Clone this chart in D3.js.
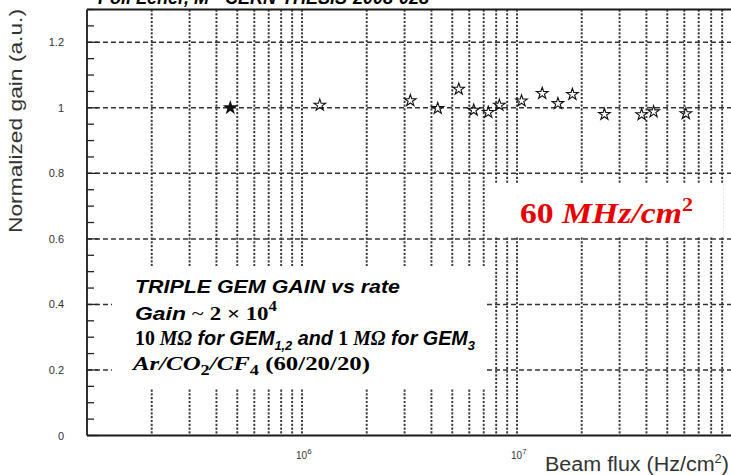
<!DOCTYPE html>
<html>
<head>
<meta charset="utf-8">
<script src="https://cdn.jsdelivr.net/npm/d3@7"></script>
<style>
  html, body { margin: 0; padding: 0; background: #fff; }
  svg { display: block; }
</style>
</head>
<body>
<svg id="chart" width="731" height="475"></svg>
<script>
// Beam flux (Hz/cm^2) and normalized gain of the triple GEM
const flux = [4.64e5, 1.21e6, 3.19e6, 4.28e6, 5.36e6, 6.29e6, 7.35e6, 8.28e6,
              1.05e7, 1.31e7, 1.55e7, 1.81e7, 2.55e7, 3.80e7, 4.32e7, 6.10e7];
const gain = [1.000, 1.008, 1.022, 0.998, 1.057, 0.993, 0.986, 1.008,
              1.021, 1.044, 1.013, 1.041, 0.980, 0.979, 0.988, 0.982];
// first point drawn as a filled star (reference measurement)
const filled = [true, false, false, false, false, false, false, false,
                false, false, false, false, false, false, false, false];

const yMajorTicks = [0, 0.2, 0.4, 0.6, 0.8, 1.0, 1.2];
const yTickLabels = ["0", "0.2", "0.4", "0.6", "0.8", "1", "1.2"];
const xDecades = [1e6, 1e7];
const xDecadeExp = ["6", "7"];

(function draw() {
  const svg = d3.select("#chart");
  const W = 731, H = 475;
  const pl = 87, pr = 732, pt = 9.5, pb = 435.5;
  const sans = "Liberation Sans, Arial, sans-serif";
  const serif = "Liberation Serif, DejaVu Serif, serif";

  const x = d3.scaleLog().domain([1e5, 1e8]).range([pl, pr]);
  const y = d3.scaleLinear().domain([0, 1.3]).range([pb, pt]);

  svg.append("rect").attr("width", W).attr("height", H).attr("fill", "#fff");

  // horizontal grid
  svg.append("g").selectAll("line").data(yMajorTicks.filter(v => v > 0)).join("line")
    .attr("x1", pl).attr("x2", pr)
    .attr("y1", d => y(d)).attr("y2", d => y(d))
    .attr("stroke", "#333").attr("stroke-width", 1.5)
    .attr("stroke-dasharray", "5,3");

  // vertical grid at every log tick
  const xGrid = x.ticks().filter(v => v > 1e5 && v < 1e8);
  svg.append("g").selectAll("line").data(xGrid).join("line")
    .attr("x1", d => x(d)).attr("x2", d => x(d))
    .attr("y1", pt).attr("y2", pb)
    .attr("stroke", "#3a3a3a").attr("stroke-width", 1.9)
    .attr("stroke-dasharray", "2.2,1.6");

  // y minor ticks (inward)
  const yMinor = d3.range(0, 1.3001, 0.05);
  svg.append("g").selectAll("line").data(yMinor).join("line")
    .attr("x1", pl).attr("x2", d => pl + (Math.abs(d / 0.2 - Math.round(d / 0.2)) < 1e-6 ? 11 : 7))
    .attr("y1", d => y(d)).attr("y2", d => y(d))
    .attr("stroke", "#222").attr("stroke-width", 1.3);

  // frame
  const frame = svg.append("g").attr("stroke", "#1a1a1a").attr("stroke-width", 1.8).attr("fill", "none");
  frame.append("line").attr("x1", pl).attr("x2", pl).attr("y1", pt).attr("y2", pb);
  frame.append("line").attr("x1", pl).attr("x2", pr).attr("y1", pb).attr("y2", pb);
  frame.append("line").attr("x1", pl).attr("x2", pr).attr("y1", pt).attr("y2", pt);
  frame.append("line").attr("x1", pr).attr("x2", pr).attr("y1", pt).attr("y2", pb);

  // y tick labels
  svg.append("g").selectAll("text").data(yMajorTicks).join("text")
    .attr("x", 64).attr("y", d => y(d) + 4)
    .attr("text-anchor", "end")
    .attr("font-family", sans)
    .attr("font-size", 11).attr("fill", "#333")
    .text((d, i) => yTickLabels[i]);

  // x tick labels 10^n
  const xl = svg.append("g").selectAll("text").data(xDecades).join("text")
    .attr("x", d => x(d) - 6).attr("y", 459)
    .attr("font-family", sans)
    .attr("font-size", 10).attr("fill", "#333");
  xl.append("tspan").text("10");
  xl.append("tspan").attr("dy", -5).attr("font-size", 8).text((d, i) => xDecadeExp[i]);

  // axis titles
  svg.append("text")
    .attr("transform", "translate(22,121) rotate(-90)")
    .attr("text-anchor", "middle")
    .attr("font-family", sans)
    .attr("font-size", 18).attr("fill", "#333")
    .attr("textLength", 224).attr("lengthAdjust", "spacingAndGlyphs")
    .text("Normalized gain (a.u.)");

  const xt = svg.append("text")
    .attr("x", 545).attr("y", 471)
    .attr("font-family", sans)
    .attr("font-size", 20).attr("fill", "#333")
    .attr("textLength", 184).attr("lengthAdjust", "spacingAndGlyphs");
  xt.append("tspan").text("Beam flux (Hz/cm");
  xt.append("tspan").attr("dy", -8).attr("font-size", 12).text("2");
  xt.append("tspan").attr("dy", 8).text(")");

  // data points
  const star = d3.symbol().type(d3.symbolStar).size(42);
  svg.append("g").selectAll("path").data(flux).join("path")
    .attr("transform", (d, i) => `translate(${x(d)},${y(gain[i])})`)
    .attr("d", star)
    .attr("fill", (d, i) => filled[i] ? "#111" : "none")
    .attr("stroke", "#111").attr("stroke-width", 1.1);

  // rate annotation box
  svg.append("rect").attr("x", 485).attr("y", 184).attr("width", 238).attr("height", 53).attr("fill", "#fff");
  const rate = svg.append("text").attr("x", 520).attr("y", 223)
    .attr("font-family", serif)
    .attr("font-weight", "bold").attr("font-size", 29).attr("fill", "#e60000")
    .attr("textLength", 173).attr("lengthAdjust", "spacingAndGlyphs");
  rate.append("tspan").text("60 ");
  rate.append("tspan").attr("font-style", "italic").text("MHz/cm");
  rate.append("tspan").attr("dy", -12).attr("font-size", 19).text("2");

  // description box
  svg.append("rect").attr("x", 112).attr("y", 266).attr("width", 374).attr("height", 122).attr("fill", "#fff");
  const desc = svg.append("g").attr("font-weight", "bold").attr("fill", "#000").attr("font-size", 19);

  const l1 = desc.append("text").attr("x", 135).attr("y", 293).attr("font-family", sans).attr("font-style", "italic")
    .attr("textLength", 265).attr("lengthAdjust", "spacingAndGlyphs");
  l1.append("tspan").text("TRIPLE GEM GAIN vs rate");

  const l2 = desc.append("text").attr("x", 135).attr("y", 320)
    .attr("textLength", 142).attr("lengthAdjust", "spacingAndGlyphs");
  l2.append("tspan").attr("font-family", sans).attr("font-style", "italic").text("Gain");
  l2.append("tspan").attr("font-family", serif).attr("font-weight", "normal").text(" ~ ");
  l2.append("tspan").attr("font-family", serif).text("2 \u00d7 10");
  l2.append("tspan").attr("font-family", serif).attr("font-size", 14).attr("dy", -9).text("4");

  const l3 = desc.append("text").attr("x", 135).attr("y", 345).attr("font-size", 20)
    .attr("textLength", 340).attr("lengthAdjust", "spacingAndGlyphs");
  l3.append("tspan").attr("font-family", serif).text("10 ");
  l3.append("tspan").attr("font-family", serif).attr("font-style", "italic").text("M\u03a9");
  l3.append("tspan").attr("font-family", sans).attr("font-style", "italic").text(" for GEM");
  l3.append("tspan").attr("font-family", sans).attr("font-style", "italic").attr("font-size", 13).attr("dy", 5).text("1,2");
  l3.append("tspan").attr("font-family", sans).attr("font-style", "italic").attr("dy", -5).text("  and ");
  l3.append("tspan").attr("font-family", serif).text("1 ");
  l3.append("tspan").attr("font-family", serif).attr("font-style", "italic").text("M\u03a9");
  l3.append("tspan").attr("font-family", sans).attr("font-style", "italic").text(" for GEM");
  l3.append("tspan").attr("font-family", sans).attr("font-style", "italic").attr("font-size", 13).attr("dy", 5).text("3");

  const l4 = desc.append("text").attr("x", 133).attr("y", 370).attr("font-family", serif)
    .attr("textLength", 237).attr("lengthAdjust", "spacingAndGlyphs");
  l4.append("tspan").attr("font-style", "italic").text("Ar/CO");
  l4.append("tspan").attr("font-size", 14).attr("dy", 5).text("2");
  l4.append("tspan").attr("font-style", "italic").attr("dy", -5).text("/CF");
  l4.append("tspan").attr("font-size", 14).attr("dy", 5).text("4");
  l4.append("tspan").attr("dy", -5).text(" (60/20/20)");

  // source line at the top edge
  svg.append("text").attr("x", 98).attr("y", 4)
    .attr("font-family", sans).attr("font-weight", "bold").attr("font-style", "italic")
    .attr("font-size", 18).attr("fill", "#000")
    .text("Poli Lener, M - CERN-THESIS-2008-028");
})();
</script>
</body>
</html>
